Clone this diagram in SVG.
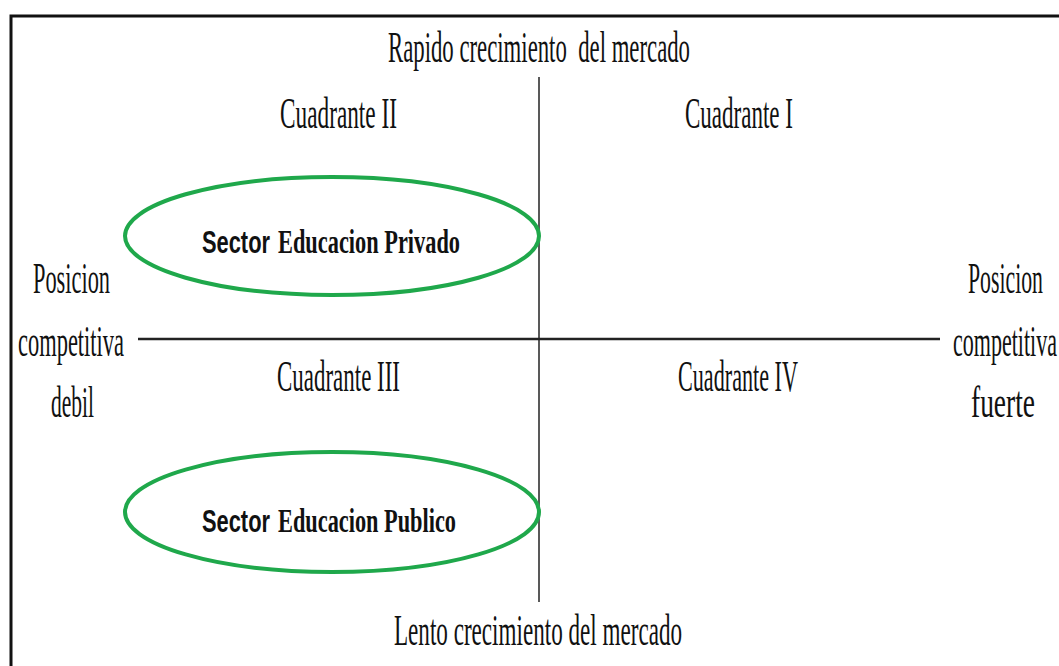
<svg xmlns="http://www.w3.org/2000/svg" width="1059" height="666" viewBox="0 0 1059 666">
<style>
.t{font-family:"Liberation Serif","Times New Roman",serif;font-size:45px;fill:#111;white-space:pre}
.b{font-family:"Liberation Serif","Times New Roman",serif;font-size:34px;font-weight:bold;fill:#111}
.s{font-family:"Liberation Sans",Arial,sans-serif;font-size:31px;font-weight:bold;fill:#111}
.oval{fill:none;stroke:#1fa84b;stroke-width:4}
.ax{stroke:#222;fill:none}
</style>
<rect width="1059" height="666" fill="#fff"/>
<g id="frame">
<path d="M11,666 V16 H1059" fill="none" stroke="#111" stroke-width="3"/>
</g>
<g id="connectors">
<line class="ax" x1="539" y1="77" x2="539" y2="602" stroke-width="1.5"/>
<line class="ax" x1="138" y1="339" x2="940" y2="339" stroke-width="2.5"/>
</g>
<g id="top-label"><text class="t" x="388" y="62" textLength="302" lengthAdjust="spacingAndGlyphs">Rapido crecimiento  del mercado</text></g>
<g id="bottom-label"><text class="t" x="394" y="645" textLength="288" lengthAdjust="spacingAndGlyphs">Lento crecimiento del mercado</text></g>
<g id="q2"><text class="t" x="280" y="128" textLength="117" lengthAdjust="spacingAndGlyphs">Cuadrante II</text></g>
<g id="q1"><text class="t" x="685" y="128" textLength="108" lengthAdjust="spacingAndGlyphs">Cuadrante I</text></g>
<g id="q3"><text class="t" x="277" y="391" textLength="123" lengthAdjust="spacingAndGlyphs">Cuadrante III</text></g>
<g id="q4"><text class="t" x="678" y="391" textLength="120" lengthAdjust="spacingAndGlyphs">Cuadrante IV</text></g>
<g id="left-label">
<text class="t" x="33" y="293" textLength="77" lengthAdjust="spacingAndGlyphs">Posicion</text>
<text class="t" x="18" y="356" textLength="106" lengthAdjust="spacingAndGlyphs">competitiva</text>
<text class="t" x="51" y="417" textLength="43" lengthAdjust="spacingAndGlyphs">debil</text>
</g>
<g id="right-label">
<text class="t" x="968" y="293" textLength="75" lengthAdjust="spacingAndGlyphs">Posicion</text>
<text class="t" x="953" y="356" textLength="104" lengthAdjust="spacingAndGlyphs">competitiva</text>
<text class="t" x="971" y="417" textLength="64" lengthAdjust="spacingAndGlyphs">fuerte</text>
</g>
<g id="sector-privado">
<ellipse class="oval" cx="332" cy="236" rx="207" ry="59"/>
<text class="s" x="202" y="253" textLength="68" lengthAdjust="spacingAndGlyphs">Sector</text>
<text class="b" x="278" y="253" textLength="182" lengthAdjust="spacingAndGlyphs">Educacion Privado</text>
</g>
<g id="sector-publico">
<ellipse class="oval" cx="332" cy="512" rx="207" ry="60"/>
<text class="s" x="202" y="532" textLength="68" lengthAdjust="spacingAndGlyphs">Sector</text>
<text class="b" x="278" y="532" textLength="178" lengthAdjust="spacingAndGlyphs">Educacion Publico</text>
</g>
</svg>
